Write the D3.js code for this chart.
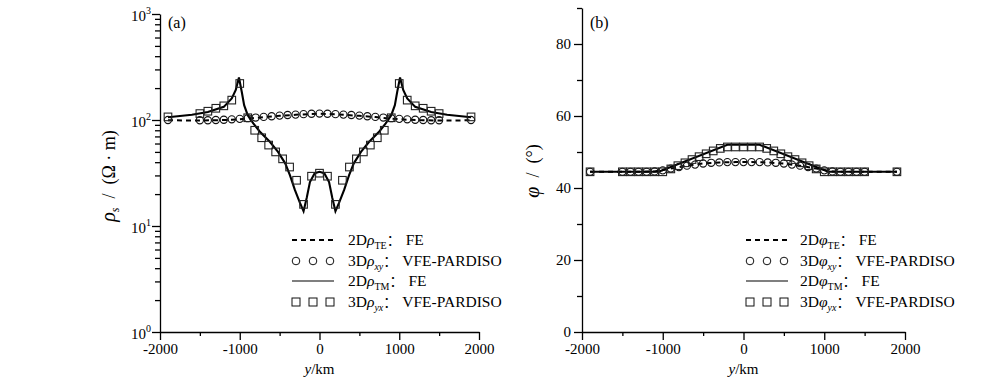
<!DOCTYPE html>
<html><head><meta charset="utf-8">
<script src="https://cdn.jsdelivr.net/npm/d3@7"></script>
<style>body{margin:0;background:#fff}svg{display:block}text{font-family:"Liberation Serif","Times New Roman",serif;fill:#000}</style>
</head><body><svg id="c" width="1000" height="382"></svg>
<script>
// ---------- data ----------
const xMajor = [-2000, -1000, 0, 1000, 2000];
const xMinor = [-1500, -500, 500, 1500];
const rhoMajor = [1, 10, 100, 1000];
const rhoLabels = ["0", "1", "2", "3"];
const phiMajor = [0, 20, 40, 60, 80];
const phiMinor = [10, 30, 50, 70, 90];

// Panel (a): apparent resistivity
const teYa = [-1900,-1700,-1500,-1300,-1100,-900,-700,-500,-300,-100,0,100,300,500,700,900,1100,1300,1500,1700,1900];
const teRho = [99.5,99,99,99.5,100.5,103,106.5,109.5,112,114,114.5,114,112,109.5,106.5,103,100.5,99.5,99,99,99.5];

const tmYa = [-1900,-1600,-1400,-1200,-1100,-1050,-1010,-975,-945,-900,-830,-750,-620,-520,-430,-370,-310,-245,-200,-160,-120,-60,0,60,120,160,200,245,310,370,430,520,620,750,830,900,945,975,1010,1050,1100,1200,1400,1600,1900];
const tmRho = [106,112,119,133,160,192,252,185,138,111,93,78,62,50,39,30,22,16.5,13.8,18.5,26,31.5,32.5,31.5,26,18.5,13.8,16.5,22,30,39,50,62,78,93,111,138,185,252,192,160,133,119,112,106];

const xyY = [-1900,-1500,-1400,-1300,-1200,-1100,-1000,-900,-800,-700,-600,-500,-400,-300,-200,-100,0,100,200,300,400,500,600,700,800,900,1000,1100,1200,1300,1400,1500,1900];
const xyRho = [100,99.5,99.5,100,100.5,101.5,102.5,104,105.5,107,108.5,110,111.5,112.5,113.5,114.5,115,114.5,113.5,112.5,111.5,110,108.5,107,105.5,104,102.5,101.5,100.5,100,99.5,99.5,100];

const yxY = [-1900,-1500,-1400,-1300,-1200,-1100,-1000,-900,-812.5,-725,-637.5,-550,-462.5,-375,-287.5,-200,-100,0,100,200,287.5,375,462.5,550,637.5,725,812.5,900,1000,1100,1200,1300,1400,1500,1900];
const yxRho = [107,115,121,129,136,154,221,105,80,68,58,50,43,36,27,16,29.5,31.5,29.5,16,27,36,43,50,58,68,80,105,221,154,136,129,121,115,107];

// Panel (b): phase
const tePhi = [44.5,44.5,44.5,44.5,44.6,45.4,46.2,46.8,47.1,47.2,47.2,47.2,47.1,46.8,46.2,45.4,44.6,44.5,44.5,44.5,44.5];
const tmYb = [-1900,-1050,-200,200,1050,1900];
const tmPhi = [44.5,44.5,52,52,44.5,44.5];
const xyPhi = [44.5,44.5,44.5,44.5,44.5,44.6,44.9,45.4,45.8,46.2,46.5,46.8,47.0,47.1,47.2,47.2,47.2,47.2,47.2,47.1,47.0,46.8,46.5,46.2,45.8,45.4,44.9,44.6,44.5,44.5,44.5,44.5,44.5];
const yxPhi = [44.5,44.5,44.5,44.5,44.5,44.5,44.5,45.3,46.2,47.0,47.9,48.7,49.5,50.3,51.0,51.4,51.4,51.4,51.4,51.4,51.0,50.3,49.5,48.7,47.9,47.0,46.2,45.3,44.5,44.5,44.5,44.5,44.5,44.5,44.5];

// ---------- drawing ----------
const svg = d3.select("#c");
const FS = 15;

function zip(a, b) { return a.map((d, i) => [d, b[i]]); }

function drawPanel(cfg) {
  const g = svg.append("g");
  const x = d3.scaleLinear().domain([-2000, 2000]).range([cfg.x0, cfg.x1]);
  const y = cfg.log
    ? d3.scaleLog().domain([1, 1000]).range([332, 14])
    : d3.scaleLinear().domain([0, 90]).range([332, 8]);

  // series
  const line = d3.line().x(d => x(d[0])).y(d => y(d[1]));
  g.append("path").attr("d", line(zip(cfg.teX, cfg.te)))
    .attr("fill", "none").attr("stroke", "#000").attr("stroke-width", 2).attr("stroke-dasharray", "5,4");
  g.append("path").attr("d", line(zip(cfg.tmX, cfg.tm)))
    .attr("fill", "none").attr("stroke", "#000").attr("stroke-width", 2.1);
  g.selectAll("circle.xy").data(zip(xyY, cfg.xy)).join("circle")
    .attr("cx", d => x(d[0])).attr("cy", d => y(d[1])).attr("r", 3.6)
    .attr("fill", "none").attr("stroke", "#111").attr("stroke-width", 1.1);
  g.selectAll("rect.yx").data(zip(yxY, cfg.yx)).join("rect")
    .attr("x", d => x(d[0]) - 3.8).attr("y", d => y(d[1]) - 3.8).attr("width", 7.6).attr("height", 7.6)
    .attr("fill", "none").attr("stroke", "#222").attr("stroke-width", 1.1);

  // x axis
  const xa = g.append("g").attr("transform", "translate(0,332)");
  xa.call(d3.axisBottom(x).tickValues(xMajor).tickSize(8).tickSizeOuter(0).tickFormat(d => String(d)));
  xa.append("g").call(d3.axisBottom(x).tickValues(xMinor).tickSize(4).tickSizeOuter(0).tickFormat(""))
    .select(".domain").remove();
  xa.selectAll("text").attr("font-size", FS).attr("font-family", "Liberation Serif").attr("fill", "#000")
    .attr("y", 22).attr("dy", null);
  xa.selectAll("path,line").attr("stroke", "#000").attr("stroke-width", 1.3);

  // y axis
  const ya = g.append("g").attr("transform", `translate(${cfg.x0},0)`);
  if (cfg.log) {
    const minor = [];
    for (let e = 0; e < 3; e++) for (let k = 2; k <= 9; k++) minor.push(k * Math.pow(10, e));
    ya.call(d3.axisLeft(y).tickValues(rhoMajor).tickSize(8).tickSizeOuter(0).tickFormat(""));
    ya.append("g").call(d3.axisLeft(y).tickValues(minor).tickSize(5).tickSizeOuter(0).tickFormat(""))
      .select(".domain").remove();
    rhoMajor.forEach((v, i) => {
      const t = ya.append("text").attr("x", -9).attr("y", y(v) + 7).attr("text-anchor", "end").attr("font-size", FS);
      t.append("tspan").text("10");
      t.append("tspan").attr("dy", -7).attr("font-size", 10).text(rhoLabels[i]);
    });
  } else {
    ya.call(d3.axisLeft(y).tickValues(phiMajor).tickSize(8).tickSizeOuter(0).tickFormat(d => String(d)));
    ya.append("g").call(d3.axisLeft(y).tickValues(phiMinor).tickSize(5).tickSizeOuter(0).tickFormat(""))
      .select(".domain").remove();
    ya.selectAll("text").attr("font-size", FS).attr("font-family", "Liberation Serif").attr("fill", "#000").attr("x", -11);
  }
  ya.selectAll("path,line").attr("stroke", "#000").attr("stroke-width", 1.3);

  // panel tag
  g.append("text").attr("x", cfg.x0 + 8).attr("y", 28).attr("font-size", 16).text(cfg.tag);

  // x title
  const xt = g.append("text").attr("x", (cfg.x0 + cfg.x1) / 2).attr("y", 374).attr("text-anchor", "middle").attr("font-size", FS);
  xt.append("tspan").attr("font-style", "italic").text("y");
  xt.append("tspan").text("/km");

  // y title
  const yt = g.append("text").attr("transform", `translate(${cfg.ytX},${cfg.ytY}) rotate(-90)`)
    .attr("text-anchor", "middle").attr("font-size", 18).style("white-space", "pre");
  cfg.yTitle(yt);

  // legend
  const lg = g.append("g");
  const rows = [240, 261, 281, 302];
  const lx0 = cfg.legX, lx1 = cfg.legX + 42;
  lg.append("line").attr("x1", lx0).attr("x2", lx1).attr("y1", rows[0]).attr("y2", rows[0])
    .attr("stroke", "#000").attr("stroke-width", 2).attr("stroke-dasharray", "5,4");
  lg.append("line").attr("x1", lx0).attr("x2", lx1).attr("y1", rows[2]).attr("y2", rows[2])
    .attr("stroke", "#000").attr("stroke-width", 1.1);
  [lx0 + 4, lx0 + 21, lx0 + 38].forEach(cx => {
    lg.append("circle").attr("cx", cx).attr("cy", rows[1]).attr("r", 3.8).attr("fill", "none").attr("stroke", "#111").attr("stroke-width", 1);
    lg.append("rect").attr("x", cx - 4).attr("y", rows[3] - 4).attr("width", 8).attr("height", 8).attr("fill", "none").attr("stroke", "#111").attr("stroke-width", 1);
  });
  const labels = [["2D", "TE", false, "FE"], ["3D", "xy", true, "VFE-PARDISO"], ["2D", "TM", false, "FE"], ["3D", "yx", true, "VFE-PARDISO"]];
  labels.forEach((L, i) => {
    const t = lg.append("text").attr("x", cfg.legX + cfg.textOff).attr("y", rows[i] + 5).attr("font-size", 15.5);
    t.append("tspan").text(L[0]);
    t.append("tspan").attr("font-style", "italic").text(cfg.sym);
    t.append("tspan").attr("dy", 4).attr("font-size", 10).attr("font-style", L[2] ? "italic" : "normal").text(L[1]);
    t.append("tspan").attr("dy", -4).attr("font-family", "Noto Sans CJK SC").attr("font-size", 14).text("：");
    t.append("tspan").attr("dx", 5).text(L[3]);
  });
}

drawPanel({
  x0: 160, x1: 479, log: true, tag: "(a)",
  teX: teYa, te: teRho, tmX: tmYa, tm: tmRho, xy: xyRho, yx: yxRho,
  ytX: 115, ytY: 176, sym: "ρ", legX: 292, textOff: 56,
  yTitle: t => {
    t.append("tspan").attr("font-style", "italic").attr("font-size", 20).text("ρ");
    t.append("tspan").attr("dy", 4).attr("font-size", 12).attr("font-style", "italic").text("s");
    t.append("tspan").attr("dy", -4).text("  /  (Ω · m)");
  }
});
drawPanel({
  x0: 582, x1: 905, log: false, tag: "(b)",
  teX: teYa, te: tePhi, tmX: tmYb, tm: tmPhi, xy: xyPhi, yx: yxPhi,
  ytX: 539, ytY: 171, sym: "φ", legX: 746, textOff: 54,
  yTitle: t => {
    t.append("tspan").attr("font-style", "italic").attr("font-size", 20).text("φ");
    t.append("tspan").text("  /  (°)");
  }
});
</script></body></html>
